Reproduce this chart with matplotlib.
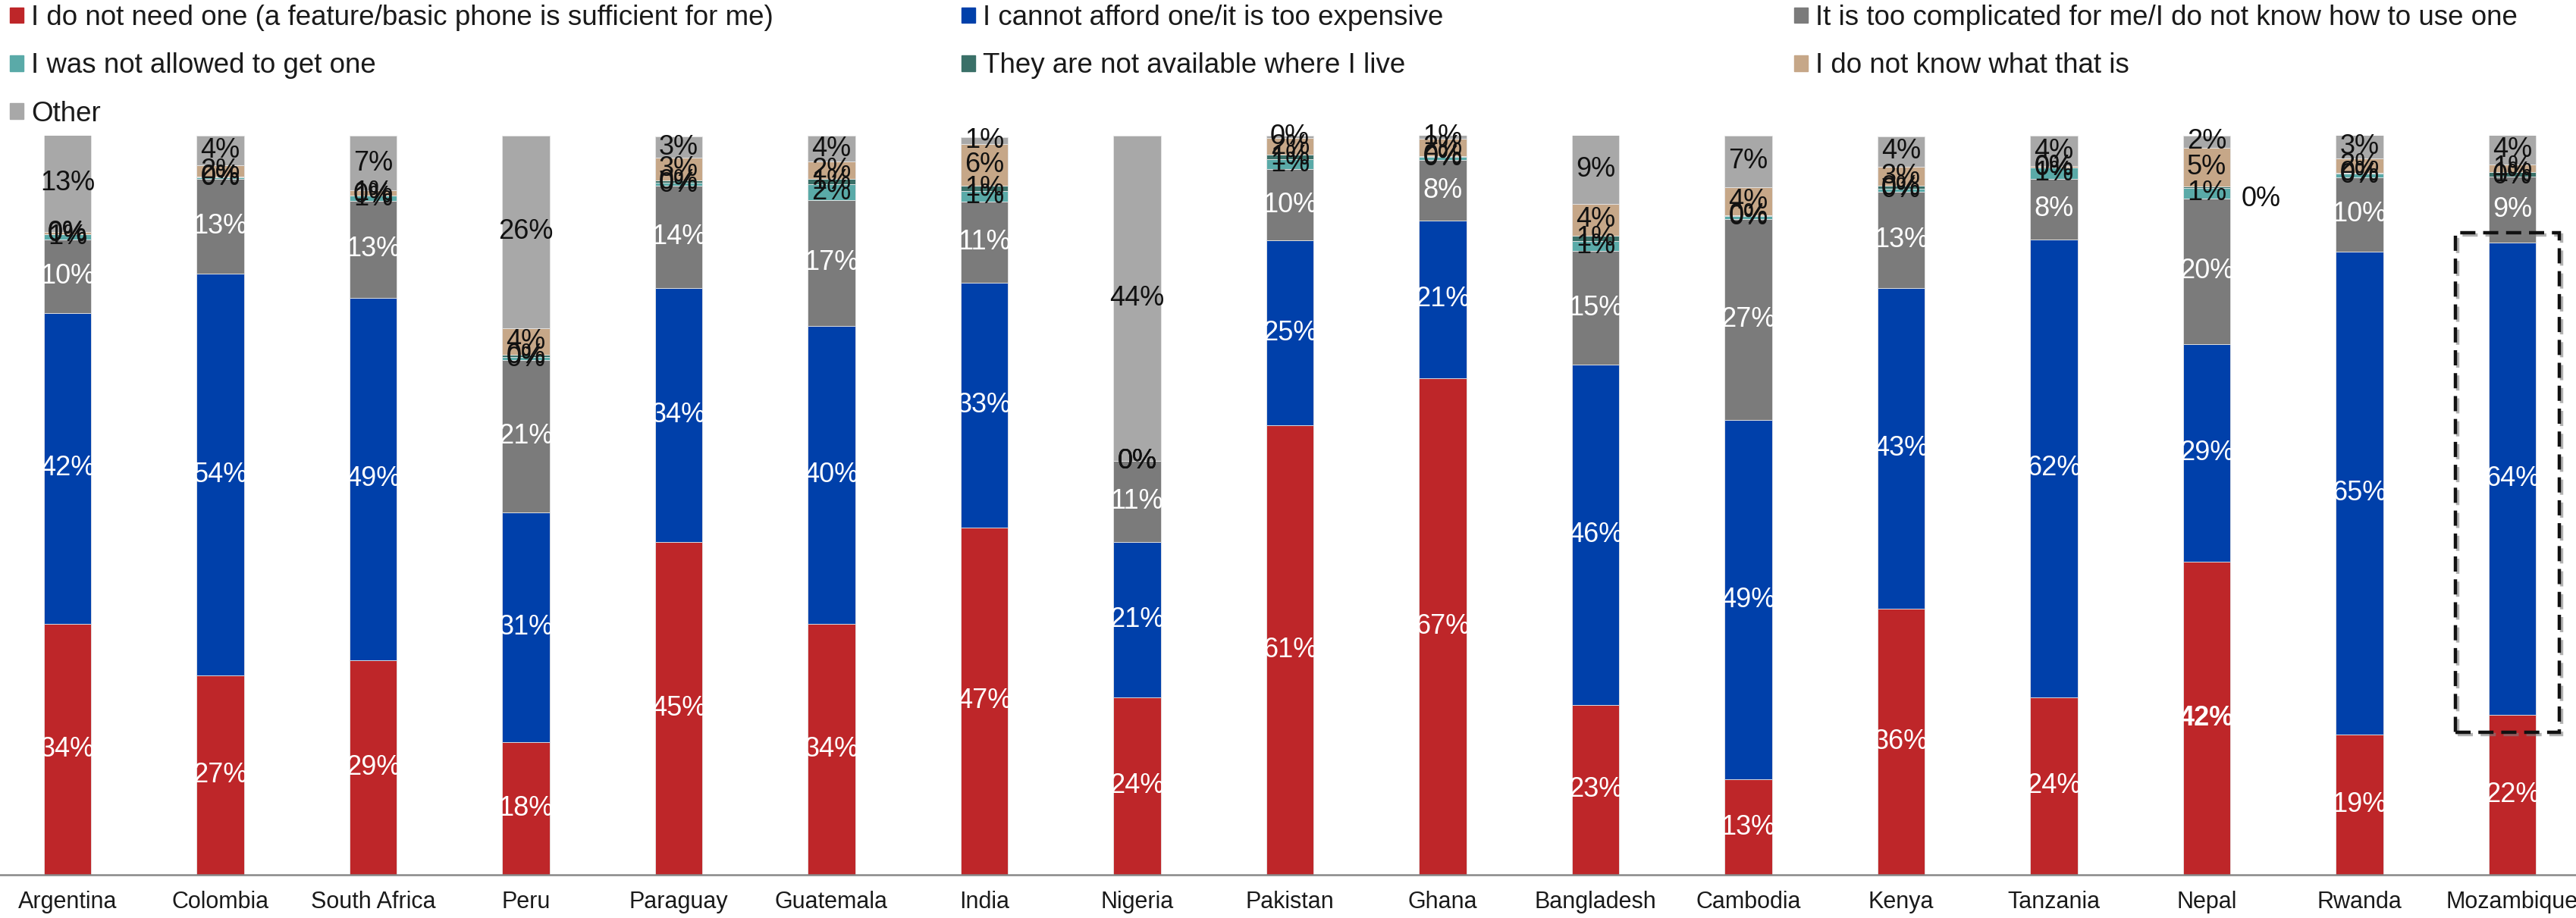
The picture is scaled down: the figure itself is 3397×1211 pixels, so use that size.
import matplotlib
matplotlib.use("Agg")
import matplotlib.pyplot as plt
import matplotlib.patches as mpatches
import matplotlib.patheffects as pe
import numpy as np

plt.rcParams['font.family'] = ['Liberation Sans', 'DejaVu Sans']

# Datos (porcentajes)
countries = ['Argentina', 'Colombia', 'South Africa', 'Peru', 'Paraguay', 'Guatemala',
             'India', 'Nigeria', 'Pakistan', 'Ghana', 'Bangladesh', 'Cambodia', 'Kenya',
             'Tanzania', 'Nepal', 'Rwanda', 'Mozambique']

need = [34, 27, 29, 18, 45, 34, 47, 24, 60.8, 67.2, 23, 12.9, 36, 24, 42.4, 19, 21.6]
afford = [42, 54.3, 49.1, 31, 34.4, 40.3, 33.1, 21, 25.0, 21.3, 46.0, 48.6, 43.4, 62.0, 29.4, 65.3, 63.9]
complicated = [10, 12.9, 13.1, 20.6, 13.8, 17, 11, 11, 9.7, 8.2, 15.4, 27.2, 13.0, 8.2, 19.7, 10.1, 9.0]
not_allowed = [0.7, 0.15, 0.7, 0.45, 0.4, 2.1, 1.4, 0, 1.3, 0.45, 1.3, 0.45, 0.45, 1.45, 1.45, 0.45, 0.0]
not_available = [0.0, 0.1, 0.0, 0.35, 0.35, 0.8, 0.75, 0, 0.6, 0.1, 0.8, 0.1, 0.35, 0.0, 0.15, 0.1, 0.6]
dont_know = [0.3, 1.6, 0.75, 3.6, 3.1, 2.3, 5.6, 0, 2.3, 2.3, 4.3, 3.8, 2.6, 0.2, 5.3, 1.95, 1.0]
other = [13.1, 3.95, 7.3, 26.0, 2.8, 3.5, 0.95, 44, 0.35, 0.55, 9.3, 7.0, 4.1, 4.1, 1.6, 3.2, 4.0]

series_names = ['I do not need one (a feature/basic phone is sufficient for me)',
                'I cannot afford one/it is too expensive',
                'It is too complicated for me/I do not know how to use one',
                'I was not allowed to get one',
                'They are not available where I live',
                'I do not know what that is',
                'Other']
series = [need, afford, complicated, not_allowed, not_available, dont_know, other]
colors = ['#BE2629', '#0040AA', '#7B7B7B', '#5AAAA8', '#3A7068', '#C6A788', '#A8A8A8']
label_colors = ['white', 'white', 'white', '#111111', '#111111', '#111111', '#111111']

fig = plt.figure(figsize=(33.98, 12.11), dpi=100)
ax = fig.add_axes([0, 57 / 1211, 1, 975 / 1211])

x = np.arange(len(countries))
width = 0.31
nepal = countries.index('Nepal')
bottom = np.zeros(len(countries))
for k, (vals, col, lc) in enumerate(zip(series, colors, label_colors)):
    vals = np.array(vals, dtype=float)
    ax.bar(x, vals, width, bottom=bottom, color=col, edgecolor='#e6e6e6', linewidth=0.6)
    for i, v in enumerate(vals):
        xt, yt, ha, fw = x[i], bottom[i] + v / 2, 'center', 'normal'
        if i == nepal and k == 0:
            fw = 'bold'
        if i == nepal and k == 4:
            # etiqueta fuera de la barra
            xt, yt, ha = x[i] + width / 2 + 0.07, bottom[i] - 1.5, 'left'
        ax.text(xt, yt, f'{v:.0f}%', ha=ha, va='center', fontsize=26,
                color=lc, fontweight=fw)
    bottom += vals

ax.set_xlim(-89 / 201.5, (3398 - 89) / 201.5)
ax.set_ylim(0, 100)
ax.set_xticks(x)
ax.set_xticklabels(countries, fontsize=22, color='#1a1a1a')
ax.tick_params(axis='x', length=0, pad=15)
ax.set_yticks([])
for s in ['top', 'right', 'left']:
    ax.spines[s].set_visible(False)
ax.spines['bottom'].set_color('#888888')
ax.spines['bottom'].set_linewidth(1.8)

# Recuadro discontinuo en Mozambique
moz = countries.index('Mozambique')
rect = mpatches.Rectangle((moz - 0.37, need[moz] - 2.3), 0.68,
                          afford[moz] + 3.7, fill=False,
                          edgecolor='#111111', linewidth=3.2,
                          linestyle=(0, (4.5, 2.3)), clip_on=False, zorder=5)
rect.set_path_effects([pe.SimpleLineShadow(offset=(2, -2), shadow_color='gray', alpha=0.6),
                       pe.Normal()])
ax.add_patch(rect)

# Leyenda en tres columnas
handles = [mpatches.Patch(color=c) for c in colors]
cols = [[0, 3, 6], [1, 4], [2, 5]]
xs = [13, 1268, 2366]
for idx, xp in zip(cols, xs):
    fig.legend([handles[i] for i in idx], [series_names[i] for i in idx],
               loc='upper left', bbox_to_anchor=(xp / 3398, 1 - 6 / 1211),
               frameon=False, fontsize=26.5, handlelength=0.49, handleheight=0.49,
               handletextpad=0.27, labelspacing=0.77, borderpad=0, borderaxespad=0,
               labelcolor='#1a1a1a')

fig.savefig('out.png', dpi=100)
